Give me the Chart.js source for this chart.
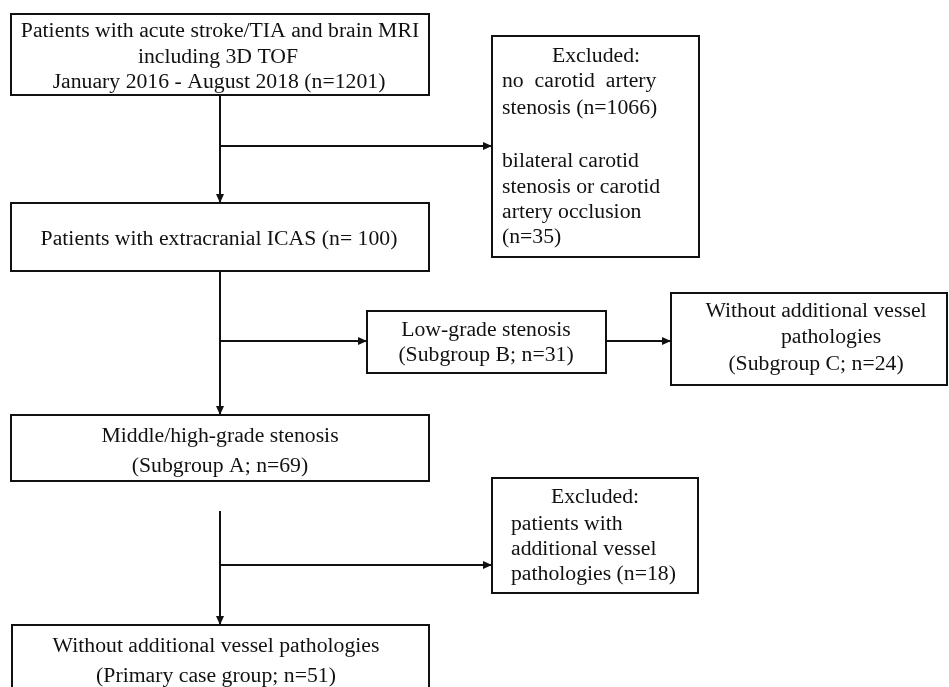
<!DOCTYPE html>
<html>
<head>
<meta charset="utf-8">
<script src="https://cdn.jsdelivr.net/npm/chart.js@4/dist/chart.umd.min.js"></script>
<style>
  html, body { margin: 0; padding: 0; background: #fff; }
  #wrap { width: 949px; height: 687px; }
</style>
</head>
<body>
<div id="wrap"><canvas id="c" width="949" height="687"></canvas></div>
<script>
// ---- DATA (flow counts and box texts) ----
const nodeNames = ['screened', 'excludedFirst', 'icas', 'lowGrade', 'subgroupC', 'subgroupA', 'excludedSecond', 'primary'];
const screenedLines = ['Patients with acute stroke/TIA and brain MRI', 'including 3D TOF', 'January 2016 - August 2018 (n=1201)'];
const excludedFirstLines = ['Excluded:', 'no  carotid  artery', 'stenosis (n=1066)', 'bilateral carotid', 'stenosis or carotid', 'artery occlusion', '(n=35)'];
const icasLines = ['Patients with extracranial ICAS (n= 100)'];
const lowGradeLines = ['Low-grade stenosis', '(Subgroup B; n=31)'];
const subgroupCLines = ['Without additional vessel', 'pathologies', '(Subgroup C; n=24)'];
const subgroupALines = ['Middle/high-grade stenosis', '(Subgroup A; n=69)'];
const excludedSecondLines = ['Excluded:', 'patients with', 'additional vessel', 'pathologies (n=18)'];
const primaryLines = ['Without additional vessel pathologies', '(Primary case group; n=51)'];
const nodeLines = [screenedLines, excludedFirstLines, icasLines, lowGradeLines, subgroupCLines, subgroupALines, excludedSecondLines, primaryLines];

// ---- LAYOUT (positions in canvas units, mapped through the chart's scales) ----
const boxRects = [
  [11, 14, 429, 95],
  [492, 36, 699, 257],
  [11, 203, 429, 271],
  [367, 311, 606, 373],
  [671, 293, 947, 385],
  [11, 415, 429, 481],
  [492, 478, 698, 593],
  [12, 625, 429, 705]
];
// per line: [x, baseline, align]
const textPlacement = [
  [[220, 37, 'center'], [218, 63, 'center'], [219, 88, 'center']],
  [[596, 62, 'center'], [502, 87, 'left'], [502, 114, 'left'], [502, 167, 'left'], [502, 193, 'left'], [502, 218, 'left'], [502, 243, 'left']],
  [[219, 245, 'center']],
  [[486, 336, 'center'], [486, 361, 'center']],
  [[816, 317, 'center'], [831, 343, 'center'], [816, 370, 'center']],
  [[220, 442, 'center'], [220, 472, 'center']],
  [[595, 503, 'center'], [511, 530, 'left'], [511, 555, 'left'], [511, 580, 'left']],
  [[216, 652, 'center'], [216, 682, 'center']]
];
// connectors: [x0, y0, x1, y1]; arrowhead at the end point
const connectors = [
  [220, 95, 220, 203],
  [220, 146, 492, 146],
  [220, 271, 220, 415],
  [220, 341, 367, 341],
  [606, 341, 671, 341],
  [220, 511, 220, 625],
  [220, 565, 492, 565]
];

const INK = '#111111';
const FONT = '20.5px "Liberation Serif", "Times New Roman", serif';
const STRETCH = 1.06;

const datasets = [];
boxRects.forEach((r, i) => {
  datasets.push({
    label: nodeNames[i],
    data: [{x: r[0], y: r[1]}, {x: r[2], y: r[1]}, {x: r[2], y: r[3]}, {x: r[0], y: r[3]}, {x: r[0], y: r[1]}],
    showLine: true, borderColor: INK, borderWidth: 2, pointRadius: 0, fill: false,
    tension: 0, borderJoinStyle: 'miter', borderCapStyle: 'square'
  });
});
connectors.forEach((c, i) => {
  datasets.push({
    label: 'link' + i,
    data: [{x: c[0], y: c[1]}, {x: c[2], y: c[3]}],
    showLine: true, borderColor: INK, borderWidth: 2, pointRadius: 0, fill: false, tension: 0
  });
});

const flowPlugin = {
  id: 'flowText',
  afterDatasetsDraw(chart) {
    const ctx = chart.ctx, xs = chart.scales.x, ys = chart.scales.y;
    ctx.save();
    // arrowheads
    ctx.fillStyle = INK;
    connectors.forEach(c => {
      const x0 = xs.getPixelForValue(c[0]), y0 = ys.getPixelForValue(c[1]);
      const x1 = xs.getPixelForValue(c[2]), y1 = ys.getPixelForValue(c[3]);
      const a = Math.atan2(y1 - y0, x1 - x0);
      const L = 9, W = 4;
      ctx.beginPath();
      ctx.moveTo(x1, y1);
      ctx.lineTo(x1 - L * Math.cos(a) + W * Math.sin(a), y1 - L * Math.sin(a) - W * Math.cos(a));
      ctx.lineTo(x1 - L * Math.cos(a) - W * Math.sin(a), y1 - L * Math.sin(a) + W * Math.cos(a));
      ctx.closePath();
      ctx.fill();
    });
    // texts (slightly widened serif to match the reference face)
    ctx.font = FONT;
    ctx.fillStyle = INK;
    ctx.textBaseline = 'alphabetic';
    nodeLines.forEach((lines, i) => {
      lines.forEach((t, j) => {
        const p = textPlacement[i][j];
        const px = xs.getPixelForValue(p[0]), py = ys.getPixelForValue(p[1]);
        ctx.save();
        ctx.translate(px, py);
        ctx.scale(STRETCH, 1);
        ctx.textAlign = p[2];
        ctx.fillText(t, 0, 0);
        ctx.restore();
      });
    });
    ctx.restore();
  }
};

new Chart(document.getElementById('c'), {
  type: 'scatter',
  data: { datasets },
  options: {
    responsive: false,
    animation: false,
    devicePixelRatio: 1,
    layout: { padding: 0 },
    plugins: { legend: { display: false }, tooltip: { enabled: false }, title: { display: false } },
    events: [],
    scales: {
      x: { type: 'linear', min: 0, max: 949, display: false },
      y: { type: 'linear', min: 0, max: 687, reverse: true, display: false }
    }
  },
  plugins: [flowPlugin]
});
</script>
</body>
</html>
